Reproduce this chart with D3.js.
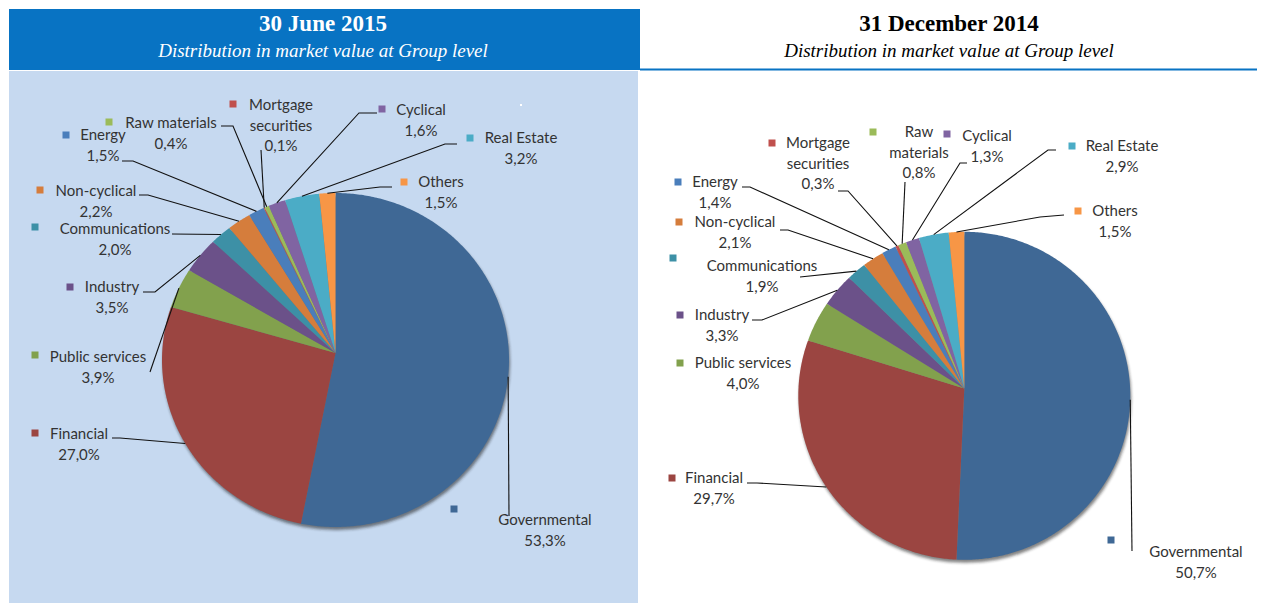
<!DOCTYPE html>
<html>
<head>
<meta charset="utf-8">
<script src="https://cdn.jsdelivr.net/npm/d3@7"></script>
<style>
body { margin: 0; background: #fff; }
svg { display: block; }
</style>
</head>
<body>
<script>
// sectors, clockwise from 12 o'clock as in the source chart
var sectors = ["Governmental", "Financial", "Public services", "Industry", "Communications",
               "Non-cyclical", "Energy", "Mortgage securities", "Raw materials", "Cyclical",
               "Real Estate", "Others"];
var june2015 = [53.3, 27.0, 3.9, 3.5, 2.0, 2.2, 1.5, 0.1, 0.4, 1.6, 3.2, 1.5];
var dec2014  = [50.7, 29.7, 4.0, 3.3, 1.9, 2.1, 1.4, 0.3, 0.8, 1.3, 2.9, 1.5];
var panelTitles = ["30 June 2015", "31 December 2014"];
var subTitle = "Distribution in market value at Group level";

var sliceColors = ["#3F6895", "#9B4541", "#82A14D", "#6B5189", "#3D90A6", "#D57D3C",
                   "#4A7EBB", "#C0504D", "#9BBB59", "#8064A2", "#4BACC6", "#F79646"];

// label placement (key square centre, text centre x, first line centre y, leader start points)
var leftLayout = {
  "Governmental":        {key: [454, 509], tx: 545, ty: 520, lead: [[509, 516]]},
  "Financial":           {key: [35, 433],  tx: 79,  ty: 434, lead: [[112, 438], [120, 438]]},
  "Public services":     {key: [35, 355],  tx: 98,  ty: 357, lead: [[150, 372]]},
  "Industry":            {key: [70, 287],  tx: 112, ty: 287, lead: [[143, 292], [155, 292]]},
  "Communications":      {key: [35, 227],  tx: 115, ty: 229, lead: [[172, 234]]},
  "Non-cyclical":        {key: [40, 190],  tx: 96,  ty: 191, lead: [[139, 195], [148, 195]]},
  "Energy":              {key: [66, 135],  tx: 103, ty: 135, lead: [[122, 161], [133, 161]]},
  "Mortgage securities": {key: [233, 104], tx: 281, ty: 105, lines: ["Mortgage", "securities"], lead: [[261, 150]]},
  "Raw materials":       {key: [109, 122], tx: 171, ty: 123, lead: [[221, 126], [233, 126]]},
  "Cyclical":            {key: [382, 109], tx: 421, ty: 110, lead: [[377, 113], [359, 113]]},
  "Real Estate":         {key: [470, 138], tx: 521, ty: 138, lead: [[457, 144], [445, 144]]},
  "Others":              {key: [404, 182], tx: 441, ty: 182, lead: [[392, 187], [380, 187]]}
};
var rightLayout = {
  "Governmental":        {key: [1111, 540], tx: 1196, ty: 552, lead: [[1132, 551]]},
  "Financial":           {key: [672, 478],  tx: 714,  ty: 478, lead: [[747, 483], [757, 483]]},
  "Public services":     {key: [680, 363],  tx: 743,  ty: 363, lead: null},
  "Industry":            {key: [680, 315],  tx: 722,  ty: 315, lead: [[752, 320], [762, 320]]},
  "Communications":      {key: [673, 258],  tx: 762,  ty: 266, lead: [[800, 277]]},
  "Non-cyclical":        {key: [679, 222],  tx: 735,  ty: 222, lead: [[780, 230], [788, 230]]},
  "Energy":              {key: [678, 182],  tx: 715,  ty: 182, lead: [[742, 187], [750, 187]]},
  "Mortgage securities": {key: [772, 143],  tx: 818,  ty: 143, lines: ["Mortgage", "securities"], lead: [[838, 191], [848, 191]]},
  "Raw materials":       {key: [873, 132],  tx: 919,  ty: 132, lines: ["Raw", "materials"], lead: [[905, 182]]},
  "Cyclical":            {key: [947, 134],  tx: 987,  ty: 136, lead: [[967, 163], [960, 163]]},
  "Real Estate":         {key: [1072, 146], tx: 1122, ty: 146, lead: [[1056, 150], [1048, 150]]},
  "Others":              {key: [1078, 211], tx: 1115, ty: 211, lead: [[1064, 215], [1040, 217]]}
};

var svg = d3.select("body").append("svg")
    .attr("width", 1262)
    .attr("height", 603);

var defs = svg.append("defs");
defs.append("filter").attr("id", "soft")
    .attr("x", "-10%").attr("y", "-10%").attr("width", "120%").attr("height", "120%")
  .append("feGaussianBlur").attr("stdDeviation", 1.6);

// left panel: blue header + light blue plot area
svg.append("rect").attr("x", 9).attr("y", 9).attr("width", 631).attr("height", 61).attr("fill", "#0873C3");
svg.append("rect").attr("x", 9).attr("y", 71).attr("width", 629).attr("height", 532).attr("fill", "#C6D9F0");
svg.append("rect").attr("x", 520).attr("y", 104).attr("width", 2).attr("height", 2).attr("fill", "#fff");

// right panel underline
svg.append("line").attr("x1", 640).attr("x2", 1257).attr("y1", 69.5).attr("y2", 69.5)
    .attr("stroke", "#0873C3").attr("stroke-width", 2);

function header(cx, title, color) {
  svg.append("text")
     .attr("x", cx).attr("y", 31)
     .attr("text-anchor", "middle")
     .style("font-family", "Liberation Serif")
     .style("font-weight", "bold")
     .style("font-size", "23px")
     .style("fill", color)
     .text(title);
  svg.append("text")
     .attr("x", cx).attr("y", 57)
     .attr("text-anchor", "middle")
     .style("font-family", "Liberation Serif")
     .style("font-style", "italic")
     .style("font-size", "19px")
     .style("fill", color)
     .text(subTitle);
}
header(323, panelTitles[0], "#fff");
header(949, panelTitles[1], "#000");

var fmt = function(v) { return d3.format(".1f")(v).replace(".", ",") + "%"; };

function drawPie(values, geo, layout) {
  var g = svg.append("g");
  var arcs = d3.pie().sort(null).value(function(d) { return d; })(values);
  var pt = function(a) { return [geo.cx + geo.rx * Math.sin(a), geo.cy - geo.ry * Math.cos(a)]; };
  var line = d3.line();

  // soft drop shadow under the disc
  g.append("ellipse")
   .attr("cx", geo.cx + 1).attr("cy", geo.cy + 3)
   .attr("rx", geo.rx).attr("ry", geo.ry)
   .attr("fill", "#1e1e1e").attr("opacity", 0.55)
   .attr("filter", "url(#soft)");

  g.selectAll("path.slice")
   .data(arcs)
   .join("path")
   .attr("class", "slice")
   .attr("fill", function(d, i) { return sliceColors[i]; })
   .attr("d", function(d) {
      var pts = [[geo.cx, geo.ay]];
      var n = Math.max(2, Math.ceil((d.endAngle - d.startAngle) / 0.01));
      for (var k = 0; k <= n; k++) {
        pts.push(pt(d.startAngle + (d.endAngle - d.startAngle) * k / n));
      }
      return line(pts) + "Z";
   });

  arcs.forEach(function(d, i) {
    var lay = layout[sectors[i]];
    var mid = pt((d.startAngle + d.endAngle) / 2);

    if (lay.lead) {
      g.append("path")
       .attr("d", line(lay.lead.concat([mid])))
       .attr("fill", "none")
       .attr("stroke", "#111")
       .attr("stroke-width", 1.1);
    }

    g.append("rect")
     .attr("x", lay.key[0] - 3.5).attr("y", lay.key[1] - 3.5)
     .attr("width", 7).attr("height", 7)
     .attr("fill", sliceColors[i]);

    var rows = (lay.lines || [sectors[i]]).concat([fmt(d.data)]);
    rows.forEach(function(r, k) {
      g.append("text")
       .attr("x", lay.tx)
       .attr("y", lay.ty + k * 20.5)
       .attr("dy", "0.36em")
       .attr("text-anchor", "middle")
       .style("font-family", "Lato")
       .style("font-size", "15px")
       .style("fill", "#333")
       .text(r);
    });
  });
}

drawPie(june2015, {cx: 335.5, cy: 360, ay: 353, rx: 173.5, ry: 167}, leftLayout);
drawPie(dec2014,  {cx: 964.3, cy: 395.8, ay: 388.5, rx: 166, ry: 164}, rightLayout);
</script>
</body>
</html>
